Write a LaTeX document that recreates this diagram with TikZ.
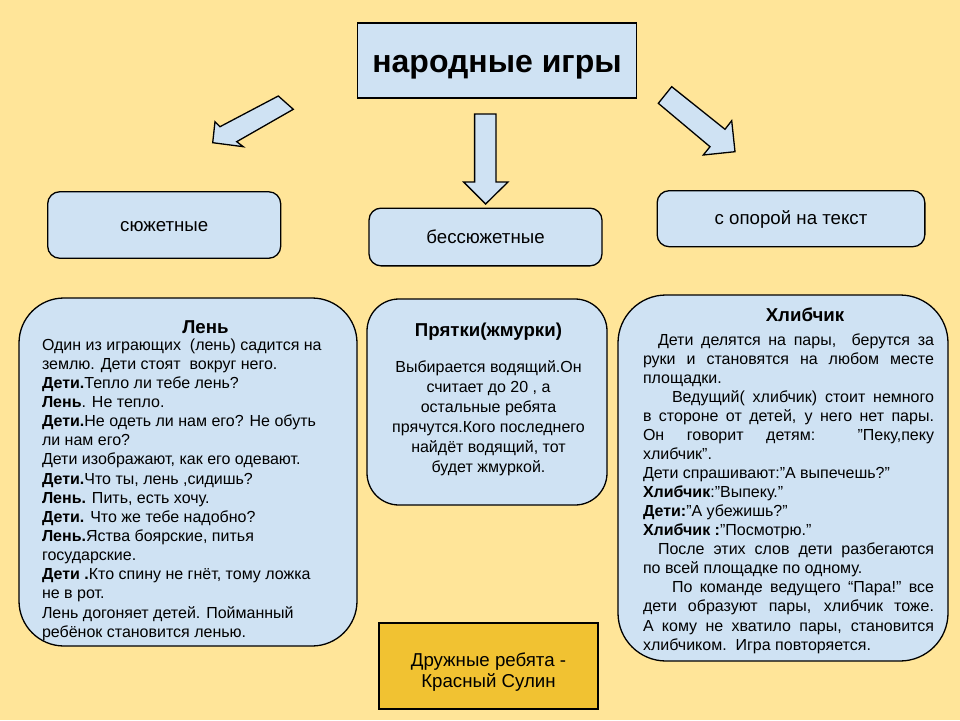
\documentclass[tikz,border=0pt]{standalone}
\usepackage{fontspec}
\setmainfont{Liberation Sans}
\usetikzlibrary{calc}
\definecolor{bgc}{HTML}{FFE599}
\definecolor{boxc}{HTML}{CFE2F3}
\definecolor{goldc}{HTML}{F1C232}
\newcommand\tstrut{\rule{0pt}{20pt}}
\newcommand\jl[1]{\makebox[291pt][s]{#1}}
\begin{document}
\begin{tikzpicture}[x=1pt,y=-1pt,
  every node/.style={inner sep=0pt, outer sep=0pt},
  frame/.style={draw=black, line width=1.3pt, fill=boxc},
  titlebox/.style={frame, minimum width=279pt, minimum height=75pt,
    font=\fontsize{32pt}{36pt}\selectfont\bfseries, text height=23pt, text depth=0pt},
  catbox/.style={frame, rounded corners=12pt,
    font=\fontsize{18.67pt}{21.5pt}\selectfont, text height=12.4pt, text depth=0pt},
  gamebox/.style={frame},
  goldbox/.style={draw=black, line width=1.3pt, fill=goldc},
  blockarrow/.style={draw=black, line width=1.3pt, fill=boxc, line join=miter},
  bodytext/.style={font=\fontsize{16pt}{19.15pt}\selectfont, align=left},
  gametitle/.style={font=\fontsize{18.67pt}{21.5pt}\selectfont\bfseries, anchor=base}
]
% background / bounding box
\fill[bgc] (0,0) rectangle (960,720);
\useasboundingbox (0,0) rectangle (960,720);

% title
\node[titlebox] (title) at (497,60.5) {народные игры};

% block arrows
\draw[blockarrow] (278.3,96) -- (220,126.7) -- (215,121.7) -- (212.7,142.7)
  -- (243.3,146.7) -- (236.7,141.7) -- (293.3,109.3) -- cycle;
\draw[blockarrow] (474.6,114) -- (496,114) -- (496,182) -- (508,182)
  -- (485.6,204) -- (463.6,182) -- (474.6,182) -- cycle;
\draw[blockarrow] (671.7,86.7) -- (725,129.3) -- (731.7,120.7) -- (735,151.7)
  -- (703.3,155) -- (710,146.7) -- (658.3,103.3) -- cycle;

% category boxes
\node[catbox, minimum width=233pt, minimum height=66.5pt] (sjuzh) at (164.2,225) {сюжетные};
\node[catbox, minimum width=233pt, minimum height=57.7pt] (bessjuzh) at (485.5,237) {бессюжетные};
\node[catbox, minimum width=267.7pt, minimum height=56pt] (opora) at (791,218.7) {с опорой на текст};

% game boxes
\node[gamebox, rounded corners=45pt, minimum width=338pt, minimum height=348pt] (lenbox) at (188,472) {};
\node[gamebox, rounded corners=32pt, minimum width=240pt, minimum height=206pt] (pryatbox) at (487,402) {};
\node[gamebox, rounded corners=48pt, minimum width=330pt, minimum height=366pt] (hlibbox) at (783,478) {};
\node[goldbox, minimum width=219pt, minimum height=86pt] (bottombox) at (488.5,666) {};

% Лень
\node[gametitle] (lentitle) at (205.5,333.5) {Лень};
\node[bodytext, anchor=north west] (lentext) at (42,330) {%
\tstrut Один из играющих\ \ (лень) садится на\\
землю. Дети стоят\ \ вокруг него.\\
\textbf{Дети.}Тепло ли тебе лень?\\
\textbf{Лень}. Не тепло.\\
\textbf{Дети.}Не одеть ли нам его? Не обуть\\
ли нам его?\\
Дети изображают, как его одевают.\\
\textbf{Дети.}Что ты, лень ,сидишь?\\
\textbf{Лень.} Пить, есть хочу.\\
\textbf{Дети.} Что же тебе надобно?\\
\textbf{Лень.}Яства боярские, питья\\
государские.\\
\textbf{Дети .}Кто спину не гнёт, тому ложка\\
не в рот.\\
Лень догоняет детей. Пойманный\\
ребёнок становится ленью.};

% Прятки
\node[gametitle] (pryattitle) at (488.5,336) {Прятки(жмурки)};
\node[font=\fontsize{16pt}{20pt}\selectfont, align=center, anchor=north] (pryattext) at (488.5,352) {%
\tstrut Выбирается водящий.Он\\
считает до 20 , а\\
остальные ребята\\
прячутся.Кого последнего\\
найдёт водящий, тот\\
будет жмуркой.};

% Хлибчик
\node[gametitle] (hlibtitle) at (805,321) {Хлибчик};
\node[font=\fontsize{16pt}{19.07pt}\selectfont, align=left, anchor=north west] (hlibtext) at (643,325) {%
\tstrut\jl{\hspace*{15pt}Дети делятся на пары,\ \ берутся за}\\
\jl{руки и становятся на любом месте}\\
площадки.\\
\jl{\hspace*{29pt}Ведущий( хлибчик) стоит немного}\\
\jl{в стороне от детей, у него нет пары.}\\
\jl{Он говорит детям: "Пеку,пеку}\\
хлибчик".\\
Дети спрашивают:"А выпечешь?"\\
\textbf{Хлибчик}:"Выпеку."\\
\textbf{Дети:}"А убежишь?"\\
\textbf{Хлибчик :}"Посмотрю."\\
\jl{\hspace*{15pt}После этих слов дети разбегаются}\\
по всей площадке по одному.\\
\jl{\hspace*{29pt}По команде ведущего “Пара!" все}\\
\jl{дети образуют пары, хлибчик тоже.}\\
\jl{А кому не хватило пары, становится}\\
хлибчиком.\ \ Игра повторяется.};

% bottom
\node[font=\fontsize{18.67pt}{21.7pt}\selectfont, align=center, anchor=north] (bottomtext) at (488.5,646) {%
\tstrut Дружные ребята -\\
Красный Сулин};
\end{tikzpicture}
\end{document}
